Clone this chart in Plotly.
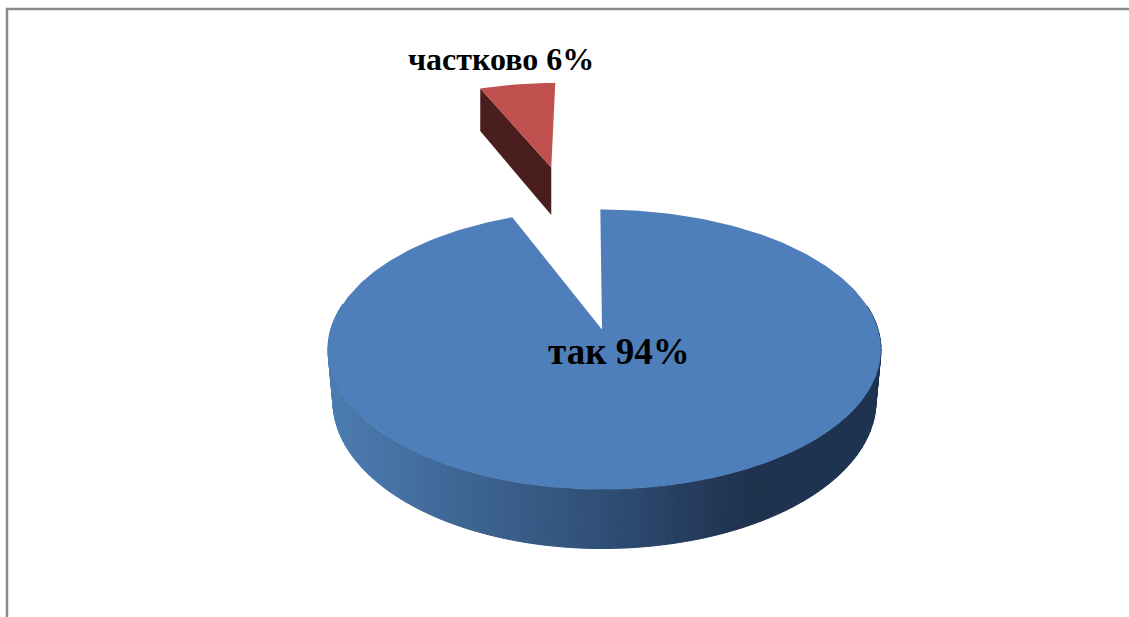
import numpy as np
import plotly.graph_objects as go

# Survey answers and their shares, in percent
labels = ["так", "частково"]
values = [94, 6]

TOP_COLOR = "#4f7fbb"
SLICE_COLOR = "#c0504d"
SLICE_WALL = "#4a1e1c"
FRAME = "#8a8a8a"

# Perspective camera for the tilted disc
APEX_X, APEX_Y = 602.0, 329.5
SCALE_LEFT, SCALE_RIGHT, SCALE_Y = 271.2, 276.1, 137.14
PERSP = -1 / 7
DEPTH = 50.6
SLICE_DEPTH = 57.0
BOTTOM_SHRINK = 0.982
ROTATION = -0.4
EXPLODE = (-0.225, -1.42)

# Side-wall shading: screen x position -> colour
WALL_X = [328, 470, 600, 745, 881]
WALL_RGB = [(76, 124, 178), (62, 100, 146), (47, 79, 119), (31, 50, 78), (30, 51, 80)]


def project(u, v, shift=(0.0, 0.0)):
    u = np.asarray(u, float) + shift[0]
    v = np.asarray(v, float) + shift[1]
    w = 1 + PERSP * v
    scale = np.where(u < 0, SCALE_LEFT, SCALE_RIGHT)
    return APEX_X + scale * u / w, APEX_Y + SCALE_Y * v / w, w


def rim(start, stop, step=1.0):
    n = max(2, int(abs(stop - start) / step) + 1)
    t = np.radians(np.linspace(start, stop, n))
    return np.sin(t), -np.cos(t)


def wall_color(x):
    c = [np.interp(x, WALL_X, [p[i] for p in WALL_RGB]) for i in range(3)]
    return "rgb({:.0f},{:.0f},{:.0f})".format(*c)


def polygon(xs, ys, color, line=0.0):
    return go.Scatter(
        x=list(xs), y=list(ys), mode="lines", fill="toself", fillcolor=color,
        line=dict(color=color, width=line), hoverinfo="skip", showlegend=False,
    )


total = sum(values)
main_sweep = 360 * values[0] / total
main_start = ROTATION
main_stop = main_start + main_sweep
small_stop = main_start + 360

fig = go.Figure()

# Pulled-out slice: radial wall first, then its top face
ax, ay, aw = project(0, 0, EXPLODE)
ax, ay, aw = float(ax), float(ay), float(aw)
eu, ev = rim(main_stop, main_stop)
ex, ey, ew = project(eu[:1], ev[:1], EXPLODE)
fig.add_trace(polygon(
    [ax, ex[0], ex[0], ax, ax],
    [ay, ey[0], ey[0] + SLICE_DEPTH / ew[0], ay + SLICE_DEPTH / aw, ay],
    SLICE_WALL,
))
u, v = rim(main_stop, small_stop)
sx, sy, _ = project(u, v, EXPLODE)
fig.add_trace(polygon(np.r_[ax, sx, ax], np.r_[ay, sy, ay], SLICE_COLOR))

# Large slice: shaded front wall built from narrow strips
angles = np.arange(80.0, 280.0, 1.5)
for a in angles:
    u, v = rim(a, a + 1.5, 0.75)
    x, y, w = project(u, v)
    bx = APEX_X + (x - APEX_X) * BOTTOM_SHRINK
    by = y + DEPTH / w
    fig.add_trace(polygon(
        np.r_[x, bx[::-1], x[0]], np.r_[y, by[::-1], y[0]],
        wall_color(x.mean()), line=1.0,
    ))

# Large slice: top face
u, v = rim(main_start, main_stop)
tx, ty, _ = project(u, v)
fig.add_trace(polygon(
    np.r_[APEX_X, tx, APEX_X], np.r_[APEX_Y, ty, APEX_Y], TOP_COLOR,
))

# Text labels
fig.add_annotation(
    x=618.5, y=351, text=f"<b>{labels[0]} {values[0]}%</b>", showarrow=False,
    font=dict(family="Liberation Serif", size=37, color="black"),
)
fig.add_annotation(
    x=501, y=59, text=f"<b>{labels[1]} {values[1]}%</b>", showarrow=False,
    font=dict(family="Liberation Serif", size=32, color="black"),
)

# Chart-area frame, open at the right and bottom page edges
fig.add_shape(
    type="path", path="M 7 617 L 7 9 L 1129 9",
    line=dict(color=FRAME, width=2.5), xref="x", yref="y",
)

fig.update_layout(
    width=1129, height=617, margin=dict(l=0, r=0, t=0, b=0),
    paper_bgcolor="white", plot_bgcolor="white", showlegend=False,
    xaxis=dict(range=[0, 1129], visible=False, fixedrange=True),
    yaxis=dict(range=[617, 0], visible=False, fixedrange=True),
)

fig.write_html("out.html", config={"displayModeBar": False})
